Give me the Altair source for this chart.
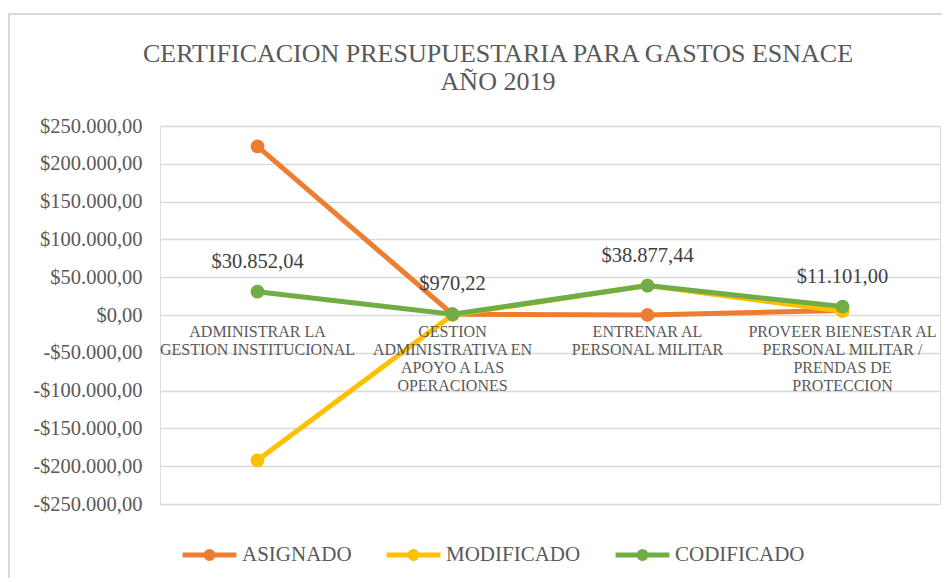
import altair as alt
import pandas as pd

categories = [
    "ADMINISTRAR LA\nGESTION INSTITUCIONAL",
    "GESTION\nADMINISTRATIVA EN\nAPOYO A LAS\nOPERACIONES",
    "ENTRENAR AL\nPERSONAL MILITAR",
    "PROVEER BIENESTAR AL\nPERSONAL MILITAR /\nPRENDAS DE\nPROTECCION",
]
series = ["ASIGNADO", "MODIFICADO", "CODIFICADO"]
asignado = [223052.04, 970.22, 0.0, 6101.00]
modificado = [-192200.00, 0.0, 38877.44, 5000.00]
codificado = [30852.04, 970.22, 38877.44, 11101.00]
colors = ["#ED7D31", "#FFC000", "#70AD47"]
y_ticks = [-250000, -200000, -150000, -100000, -50000, 0, 50000, 100000, 150000, 200000, 250000]

rows = []
for s, vals in zip(series, [asignado, modificado, codificado]):
    for i, (c, v) in enumerate(zip(categories, vals)):
        rows.append({"serie": s, "cat": c, "idx": i, "valor": v})
df = pd.DataFrame(rows)
cat_df = pd.DataFrame({"cat": categories})

FONT = "Liberation Serif, Times New Roman, serif"
W, H = 780, 378

x_enc = alt.X("cat:N", sort=categories, axis=None, scale=alt.Scale(paddingInner=0, paddingOuter=0))
y_scale = alt.Scale(domain=[-250000, 250000], nice=False)
y_axis = alt.Axis(values=y_ticks, tickCount=11, format="$,.2f", title=None,
                  ticks=False, domain=False, labelPadding=18, labelFontSize=20.5,
                  labelOverlap=False, labelColor="#595959", labelFont=FONT,
                  gridColor="#D9D9D9", gridWidth=1.3)
color_enc = alt.Color("serie:N", scale=alt.Scale(domain=series, range=colors),
                      legend=alt.Legend(title=None, orient="none", direction="horizontal",
                                        legendX=20, legendY=399, labelFontSize=21, labelFont=FONT,
                                        labelColor="#595959", columnPadding=24, labelOffset=3,
                                        symbolType="M-1,0H1M0,-0.13A0.13,0.13 0 1,1 0,0.13A0.13,0.13 0 1,1 0,-0.13",
                                        symbolSize=2900, symbolStrokeWidth=5))

base = alt.Chart(df)

border = alt.Chart(cat_df).mark_rect(fill=None, fillOpacity=0, stroke="#D9D9D9", strokeWidth=1.5).encode(
    x=alt.value(-151), x2=alt.value(800), y=alt.value(-112), y2=alt.value(470)
)

grid = base.mark_line(opacity=0).encode(
    x=x_enc, y=alt.Y("valor:Q", scale=y_scale, axis=y_axis)
)

lines = []
for s in series:
    lines.append(
        base.transform_filter(alt.datum.serie == s).mark_line(
            strokeWidth=5, point=alt.OverlayMarkDef(size=190, filled=True, opacity=1)
        ).encode(x=x_enc, y=alt.Y("valor:Q", scale=y_scale, axis=None), color=color_enc)
    )

labels = base.transform_filter(alt.datum.serie == "CODIFICADO").mark_text(
    fontSize=20.5, font=FONT, color="#404040", dy=-30
).encode(x=x_enc, y=alt.Y("valor:Q", scale=y_scale, axis=None),
         text=alt.Text("valor:Q", format="$,.2f"))

cat_labels = alt.Chart(cat_df).mark_text(
    fontSize=16, font=FONT, color="#595959", baseline="top", dy=9, lineBreak="\n", lineHeight=18
).encode(x=x_enc, y=alt.Y(datum=0, axis=None), text="cat:N")

chart = alt.layer(border, grid, *lines, cat_labels, labels).resolve_axis(y="independent").properties(
    width=W, height=H,
    title=alt.TitleParams(
        ["CERTIFICACION PRESUPUESTARIA PARA GASTOS ESNACE", "AÑO 2019"],
        fontSize=26, font=FONT, fontWeight="normal", color="#595959",
        anchor="middle", dx=-52, offset=-82, lineHeight=28,
    ),
    autosize=alt.AutoSizeParams(type="none"),
    padding={"left": 152, "top": 118, "right": 2, "bottom": 74},
).configure_view(strokeWidth=0).configure(
    locale={"number": {"decimal": ",", "thousands": ".", "grouping": [3],
                       "currency": ["$", ""], "minus": "-"}}
)

chart.save("out.html", embed_options={"renderer": "svg", "actions": False})
